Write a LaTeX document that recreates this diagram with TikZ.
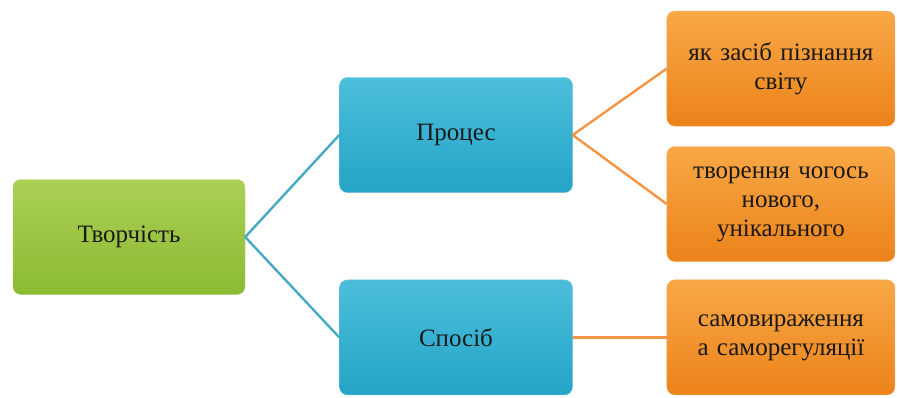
\documentclass[tikz,border=0pt]{standalone}
\usepackage{fontspec}
\setmainfont{Liberation Serif}
\usepackage{xcolor}
\usetikzlibrary{positioning}
\definecolor{rootgreen}{RGB}{140,186,50}
\definecolor{rootgreentop}{RGB}{170,208,84}
\definecolor{midblue}{RGB}{36,164,198}
\definecolor{midbluetop}{RGB}{76,190,220}
\definecolor{leaforange}{RGB}{236,130,26}
\definecolor{leaforangetop}{RGB}{248,168,70}
\definecolor{linkblue}{RGB}{70,170,196}
\definecolor{linkorange}{RGB}{245,148,66}
\tikzset{
  box/.style={
    rectangle, rounded corners=8pt, minimum height=115pt,
    text centered, align=center, text=black!90,
    font=\fontsize{25}{29}\selectfont
  },
  rootbox/.style={
    box, minimum width=232pt, draw=rootgreen!70!white,
    top color=rootgreentop, bottom color=rootgreen
  },
  midbox/.style={
    box, minimum width=233pt, draw=midblue!70!white,
    top color=midbluetop, bottom color=midblue
  },
  leafbox/.style={
    box, minimum width=228pt, text width=215pt, draw=leaforange!70!white,
    top color=leaforangetop, bottom color=leaforange
  },
  linkb/.style={line width=2.4pt, color=linkblue},
  linko/.style={line width=2.4pt, color=linkorange}
}
\begin{document}
\begin{tikzpicture}[x=1pt, y=1pt]
  \useasboundingbox (0,0) rectangle (897,-397);

  \node[rootbox] (root) at (129,-237) {Творчість};
  \node[midbox] (proc) at (456,-135) {Процес};
  \node[midbox, below=87pt of proc] (way) {Спосіб};
  \node[leafbox, right=94pt of way] (self) {самовираження\\а саморегуляції};
  \node[leafbox, above=18pt of self] (make) {творення чогось\\нового,\\унікального};
  \node[leafbox, above=20pt of make] (know) {як засіб пізнання\\світу};

  \draw[linkb] (root.east) -- (proc.west);
  \draw[linkb] (root.east) -- (way.west);
  \draw[linko] (proc.east) -- (know.west);
  \draw[linko] (proc.east) -- (make.west);
  \draw[linko] (way.east) -- (self.west);
\end{tikzpicture}
\end{document}
